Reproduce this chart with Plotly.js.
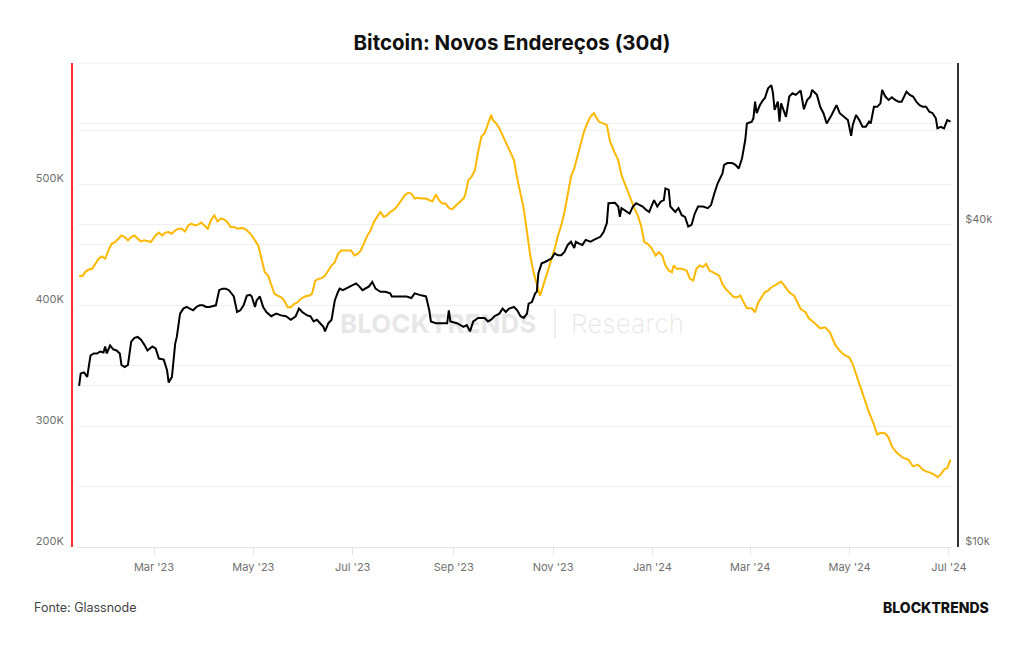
<!DOCTYPE html>
<html>
<head>
<meta charset="utf-8">
<script src="https://cdn.plot.ly/plotly-3.0.1.min.js"></script>
<style>html,body{margin:0;padding:0;background:#fff;}#chart{width:1024px;height:645px;}</style>
</head>
<body>
<div id="chart"></div>
<script>
// ---- Novos endereços (30d) – left axis ----
const addrDates = [
'2023-01-14','2023-01-16','2023-01-18','2023-01-20','2023-01-22','2023-01-24','2023-01-26','2023-01-28','2023-01-30',
'2023-02-01','2023-02-03','2023-02-05','2023-02-07','2023-02-09','2023-02-11','2023-02-13','2023-02-15','2023-02-17','2023-02-19','2023-02-21','2023-02-23','2023-02-25','2023-02-27',
'2023-03-02','2023-03-04','2023-03-06','2023-03-08','2023-03-10','2023-03-12','2023-03-14','2023-03-16','2023-03-18','2023-03-20','2023-03-22','2023-03-24','2023-03-26','2023-03-28','2023-03-30',
'2023-04-01','2023-04-03','2023-04-05','2023-04-07','2023-04-09','2023-04-11','2023-04-13','2023-04-15','2023-04-17','2023-04-19','2023-04-21','2023-04-23','2023-04-25','2023-04-27','2023-04-30',
'2023-05-02','2023-05-04','2023-05-06','2023-05-08','2023-05-10','2023-05-12','2023-05-14','2023-05-16','2023-05-18','2023-05-20','2023-05-22','2023-05-24','2023-05-26','2023-05-28','2023-05-30',
'2023-06-02','2023-06-04','2023-06-06','2023-06-08','2023-06-10','2023-06-12','2023-06-14','2023-06-16','2023-06-18','2023-06-20','2023-06-22','2023-06-24','2023-06-26','2023-06-28','2023-06-30',
'2023-07-02','2023-07-04','2023-07-06','2023-07-08','2023-07-10','2023-07-12','2023-07-14','2023-07-16','2023-07-18','2023-07-20','2023-07-22','2023-07-24','2023-07-26','2023-07-28','2023-07-31',
'2023-08-02','2023-08-04','2023-08-06','2023-08-08','2023-08-10','2023-08-12','2023-08-15','2023-08-17','2023-08-19','2023-08-21','2023-08-23','2023-08-25','2023-08-27','2023-08-29','2023-08-31',
'2023-09-03','2023-09-05','2023-09-07','2023-09-08','2023-09-10','2023-09-12','2023-09-14','2023-09-16','2023-09-18','2023-09-20','2023-09-22','2023-09-24','2023-09-25','2023-09-27','2023-09-29',
'2023-10-01','2023-10-03','2023-10-05','2023-10-08','2023-10-10','2023-10-12','2023-10-14','2023-10-16','2023-10-18','2023-10-20','2023-10-22','2023-10-24','2023-10-25','2023-10-27','2023-10-29','2023-10-31',
'2023-11-02','2023-11-04','2023-11-06','2023-11-08','2023-11-10','2023-11-12','2023-11-14','2023-11-16','2023-11-18','2023-11-20','2023-11-22','2023-11-24','2023-11-26','2023-11-27','2023-11-29',
'2023-12-04','2023-12-06','2023-12-09','2023-12-11','2023-12-13','2023-12-15','2023-12-17','2023-12-19','2023-12-21','2023-12-23','2023-12-25','2023-12-27','2023-12-29','2023-12-31',
'2024-01-03','2024-01-05','2024-01-07','2024-01-09','2024-01-11','2024-01-13','2024-01-14','2024-01-16','2024-01-19','2024-01-22','2024-01-24','2024-01-26','2024-01-28','2024-01-30',
'2024-02-01','2024-02-03','2024-02-05','2024-02-07','2024-02-09','2024-02-11','2024-02-13','2024-02-15','2024-02-18','2024-02-20','2024-02-22','2024-02-24','2024-02-26','2024-02-28',
'2024-03-02','2024-03-04','2024-03-06','2024-03-08','2024-03-10','2024-03-12','2024-03-14','2024-03-16','2024-03-20','2024-03-22','2024-03-25','2024-03-28',
'2024-04-01','2024-04-04','2024-04-06','2024-04-09','2024-04-13','2024-04-16','2024-04-19','2024-04-22','2024-04-25','2024-04-28',
'2024-05-01','2024-05-03','2024-05-05','2024-05-07','2024-05-10','2024-05-13','2024-05-16','2024-05-18','2024-05-20','2024-05-23','2024-05-25','2024-05-27','2024-05-30',
'2024-06-03','2024-06-06','2024-06-09','2024-06-12','2024-06-15','2024-06-17','2024-06-19','2024-06-22','2024-06-24','2024-06-26','2024-06-28','2024-06-30','2024-07-02'
];
const addrValues = [
424300,423800,427600,429300,429900,434000,438200,440100,438200,
445100,450600,452000,454800,457500,456200,453400,456200,457500,454800,452500,453400,452500,452000,
457500,459800,457500,459800,460300,458900,461700,463100,463100,460800,465800,467200,465800,466400,468100,
465800,463100,470000,474100,469100,471400,470800,468600,464500,464500,463100,463700,463500,461700,457500,
453400,449200,438200,427100,424300,416000,409100,407700,406400,403600,398100,398100,400800,402200,405000,
407200,407700,409100,420200,421600,422200,424300,428500,432600,435400,442300,445100,445100,445100,445100,
440900,442300,445100,452000,457500,461700,468600,472800,476900,472800,474100,476900,478300,481100,486600,
490700,492700,492100,488000,488600,488000,488000,486600,485700,491300,486600,483800,483800,480300,479100,
483000,485200,488000,490700,503200,506000,511500,526700,539200,541900,548800,557100,553000,550200,546100,
540500,535000,528100,519800,504600,490700,479700,460300,440900,427100,417400,407700,411900,420200,429900,438200,
446500,457500,465800,476900,490700,506000,512900,522600,532200,543300,550200,555800,558500,555800,551600,
548800,535000,525300,519800,507300,500400,492100,485200,479700,474100,465800,452000,450600,447900,
440900,443700,440900,432600,428500,427100,432600,429900,429900,428500,421600,420200,429900,432600,
431300,434000,428500,427100,425700,424300,417400,413300,409100,406400,406400,407700,402200,397300,
397300,394000,402200,406400,410500,411900,414700,416000,419300,416000,410500,407700,
396700,394000,389000,385700,380700,381500,377400,367600,362100,358500,
356600,351000,342700,334400,323400,311000,301200,292900,294400,293800,290200,283200,277800,
273600,272200,266600,268100,263900,262500,261700,259800,257800,259800,263900,265300,272200
];

// ---- Preço do Bitcoin (USD) – right axis (log) ----
const priceDates = [
'2023-01-14','2023-01-15','2023-01-17','2023-01-19','2023-01-21','2023-01-23','2023-01-25','2023-01-27','2023-01-29','2023-01-30','2023-01-31',
'2023-02-02','2023-02-04','2023-02-06','2023-02-08','2023-02-09','2023-02-11','2023-02-13','2023-02-15','2023-02-17','2023-02-19','2023-02-21','2023-02-23','2023-02-25','2023-02-28',
'2023-03-02','2023-03-04','2023-03-07','2023-03-09','2023-03-10','2023-03-12','2023-03-14','2023-03-15','2023-03-17','2023-03-19','2023-03-21','2023-03-23','2023-03-25','2023-03-27','2023-03-29','2023-03-31',
'2023-04-02','2023-04-04','2023-04-08','2023-04-10','2023-04-12','2023-04-14','2023-04-16','2023-04-19','2023-04-21','2023-04-23','2023-04-25','2023-04-27','2023-04-29','2023-04-30',
'2023-05-02','2023-05-03','2023-05-05','2023-05-07','2023-05-09','2023-05-12','2023-05-15','2023-05-18','2023-05-21','2023-05-24','2023-05-27','2023-05-29','2023-05-31',
'2023-06-03','2023-06-05','2023-06-07','2023-06-09','2023-06-11','2023-06-13','2023-06-14','2023-06-16','2023-06-18','2023-06-20','2023-06-22','2023-06-23','2023-06-25','2023-06-27','2023-06-29',
'2023-07-01','2023-07-03','2023-07-05','2023-07-07','2023-07-11','2023-07-13','2023-07-15','2023-07-18','2023-07-21','2023-07-24','2023-07-25','2023-07-28','2023-07-31',
'2023-08-03','2023-08-06','2023-08-08','2023-08-11','2023-08-14','2023-08-15','2023-08-17','2023-08-18','2023-08-21','2023-08-25','2023-08-28','2023-08-29','2023-08-30',
'2023-09-03','2023-09-07','2023-09-09','2023-09-11','2023-09-13','2023-09-16','2023-09-18','2023-09-20','2023-09-22','2023-09-24','2023-09-26','2023-09-29',
'2023-10-01','2023-10-03','2023-10-05','2023-10-08','2023-10-10','2023-10-12','2023-10-14','2023-10-16','2023-10-17','2023-10-19','2023-10-21','2023-10-22','2023-10-23','2023-10-25','2023-10-27','2023-10-29','2023-10-31',
'2023-11-02','2023-11-04','2023-11-06','2023-11-08','2023-11-10','2023-11-12','2023-11-14','2023-11-15','2023-11-17','2023-11-19','2023-11-21','2023-11-24','2023-11-26','2023-11-29','2023-11-30',
'2023-12-02','2023-12-04','2023-12-05','2023-12-07','2023-12-09','2023-12-11','2023-12-12','2023-12-13','2023-12-16','2023-12-18','2023-12-20','2023-12-22','2023-12-24','2023-12-26','2023-12-28','2023-12-30',
'2024-01-02','2024-01-04','2024-01-06','2024-01-08','2024-01-09','2024-01-11','2024-01-12','2024-01-15','2024-01-17','2024-01-19','2024-01-21','2024-01-23','2024-01-25','2024-01-27','2024-01-29',
'2024-02-01','2024-02-04','2024-02-06','2024-02-08','2024-02-10','2024-02-13','2024-02-14','2024-02-16','2024-02-19','2024-02-21','2024-02-23','2024-02-25','2024-02-27','2024-02-28',
'2024-03-02','2024-03-03','2024-03-04','2024-03-05','2024-03-07','2024-03-09','2024-03-10','2024-03-12','2024-03-14','2024-03-15','2024-03-16','2024-03-18','2024-03-19','2024-03-20','2024-03-22','2024-03-23','2024-03-25','2024-03-27','2024-03-29',
'2024-04-01','2024-04-03','2024-04-05','2024-04-07','2024-04-08','2024-04-11','2024-04-13','2024-04-15','2024-04-17','2024-04-20','2024-04-23','2024-04-25','2024-04-28','2024-04-30',
'2024-05-02','2024-05-03','2024-05-05','2024-05-07','2024-05-09','2024-05-11','2024-05-13','2024-05-14','2024-05-16','2024-05-18','2024-05-20','2024-05-21','2024-05-23','2024-05-25','2024-05-27','2024-05-29','2024-05-31',
'2024-06-02','2024-06-05','2024-06-07','2024-06-09','2024-06-11','2024-06-13','2024-06-15','2024-06-17','2024-06-19','2024-06-21','2024-06-23','2024-06-24','2024-06-26','2024-06-28','2024-06-30','2024-07-02'
];
const priceValues = [
20000,21100,21200,20800,22800,23000,23000,23200,23100,23700,23000,
23800,23400,23300,23000,21900,21700,21900,24200,24600,24700,24400,23900,23300,23700,
23500,22500,22400,21400,20300,20800,24000,24700,27300,27900,28100,27900,27700,28100,28300,28300,
28100,28100,28300,30200,30400,30400,30200,29400,27500,27700,28300,29500,29600,29400,
28100,28900,29400,28100,27500,27000,27300,27100,27000,26600,27000,27900,27500,
27100,27000,26400,26600,26200,25800,25300,26200,26600,28900,30000,30400,30200,30400,30700,
30900,31100,30700,30200,30700,31300,30400,30000,30000,29800,29400,29400,29400,
29400,29200,29800,29600,29400,29400,27700,26400,26200,26200,26200,27700,26400,
26200,25800,26000,25300,26400,26800,26800,26800,26400,26600,27000,27300,
27900,27500,27900,28100,27700,27000,26800,27300,28500,28700,29800,30000,32500,33900,34100,34400,34600,
35400,35100,35100,35600,36700,37200,36200,37200,36900,36700,37500,37200,37500,37900,38000,
38800,40300,43900,43900,44000,43300,41400,43000,42300,42000,43300,43900,43600,43300,42700,42300,
44500,43300,44200,44500,46800,46500,43300,42300,43000,41700,41400,39700,40000,42000,43300,
43300,43000,43600,45800,47800,49900,51800,52200,52200,51800,51000,53300,57700,61900,
62400,63300,68000,64700,67000,68500,69000,72000,73000,70500,65600,68000,62400,67500,64700,63700,69500,70500,70000,
71300,65800,68500,69500,71500,70000,66500,64700,61900,64200,67000,64700,63700,62800,
58700,61500,64200,62800,61000,61000,62400,61900,66500,66500,67500,71500,69500,68500,69300,68500,68000,
68000,71000,70000,69500,68000,67000,66500,66500,65100,64700,63300,60600,61000,60600,62800,62400
];

// ---- Axis ticks ----
const xTickDates = ['2023-03-01','2023-05-01','2023-07-01','2023-09-01','2023-11-01','2024-01-01','2024-03-01','2024-05-01','2024-07-01'];
const xTickLabels = ["Mar '23","May '23","Jul '23","Sep '23","Nov '23","Jan '24","Mar '24","May '24","Jul '24"];
const leftTickVals = [200000,250000,300000,350000,400000,450000,500000,550000,600000];
const leftTickText = ['200K','','300K','','400K','','500K','',''];
const rightTickVals = [10000,20000,40000,60000];
const rightTickText = ['$10k','','$40k',''];

const W = 1024, TOP = 63, BOT = 547;
const px = v => v / W;
const py = v => (BOT - v) / (BOT - TOP);
const tickFont = {family: 'Inter, Roboto, sans-serif', size: 11, color: '#707070'};
const wm = 'rgba(0,0,0,0.09)';
const grid = '#f0f0f0';

const traces = [
  {x: addrDates, y: addrValues, type: 'scatter', mode: 'lines', yaxis: 'y',
   line: {color: '#ffb800', width: 2}, hoverinfo: 'skip'},
  {x: priceDates, y: priceValues, type: 'scatter', mode: 'lines', yaxis: 'y2',
   line: {color: '#000000', width: 2}, hoverinfo: 'skip'}
];

const layout = {
  width: 1024, height: 645,
  margin: {l: 0, r: 0, t: TOP, b: 645 - BOT, pad: 0},
  paper_bgcolor: '#ffffff', plot_bgcolor: '#ffffff',
  showlegend: false,
  title: {text: 'Bitcoin: Novos Endereços (30d)', x: 0.5, xanchor: 'center', y: 1 - 43 / 645, yanchor: 'middle',
          font: {family: 'Inter, Roboto, sans-serif', size: 20.5, color: '#111111', weight: 700}},
  xaxis: {type: 'date', domain: [px(78), px(952)], range: ['2023-01-13 08:00', '2024-07-02 22:00'],
          tickmode: 'array', tickvals: xTickDates, ticktext: xTickLabels,
          showgrid: false, zeroline: false, showline: true, linecolor: '#e3e3e3', linewidth: 1,
          ticks: 'outside', ticklen: 7, tickcolor: '#e3e3e3', tickwidth: 1,
          ticklabelstandoff: 3,
          tickfont: tickFont, automargin: false, fixedrange: true},
  yaxis: {domain: [0, 1], anchor: 'free', position: px(72), range: [200000, 600000],
          tickmode: 'array', tickvals: leftTickVals, ticktext: leftTickText,
          showgrid: true, gridcolor: grid, gridwidth: 1, zeroline: false,
          showline: true, linecolor: '#ff3030', linewidth: 2, ticks: '',
          ticklabelshift: -6, ticklabelstandoff: 5,
          tickfont: tickFont, automargin: false, fixedrange: true},
  yaxis2: {overlaying: 'y', side: 'right', anchor: 'free', position: px(958), type: 'log',
           range: [Math.log10(10000), Math.log10(80300)],
           tickmode: 'array', tickvals: rightTickVals, ticktext: rightTickText,
           showgrid: true, gridcolor: grid, gridwidth: 1, zeroline: false,
           showline: true, linecolor: '#333333', linewidth: 2, ticks: '',
           ticklabelshift: -6, ticklabelstandoff: 4,
           tickfont: tickFont, automargin: false, fixedrange: true},
  shapes: [
    {type: 'line', xref: 'paper', yref: 'paper', x0: px(78), x1: px(952), y0: 1, y1: 1,
     line: {color: grid, width: 1}, layer: 'below'},
    {type: 'line', xref: 'paper', yref: 'paper', x0: px(555), x1: px(555), y0: py(309), y1: py(338),
     line: {color: wm, width: 1.5}, layer: 'below'}
  ],
  annotations: [
    {text: 'BLOCKTRENDS', xref: 'paper', yref: 'paper', x: px(438), y: py(323), xanchor: 'center', yanchor: 'middle',
     showarrow: false, font: {family: 'Inter, sans-serif', size: 26, color: wm, weight: 800}},
    {text: 'Research', xref: 'paper', yref: 'paper', x: px(627), y: py(323), xanchor: 'center', yanchor: 'middle',
     showarrow: false, font: {family: 'Inter, sans-serif', size: 26, color: wm, weight: 300}},
    {text: 'Fonte: Glassnode', xref: 'paper', yref: 'paper', x: px(32), y: py(607), xanchor: 'left', yanchor: 'middle',
     showarrow: false, font: {family: 'Inter, Roboto, sans-serif', size: 12.5, color: '#444444'}},
    {text: 'BLOCKTRENDS', xref: 'paper', yref: 'paper', x: px(991), y: py(607), xanchor: 'right', yanchor: 'middle',
     showarrow: false, font: {family: 'Inter, sans-serif', size: 14, color: '#111111', weight: 800}}
  ]
};

Plotly.newPlot('chart', traces, layout, {staticPlot: true, displayModeBar: false});
</script>
</body>
</html>
